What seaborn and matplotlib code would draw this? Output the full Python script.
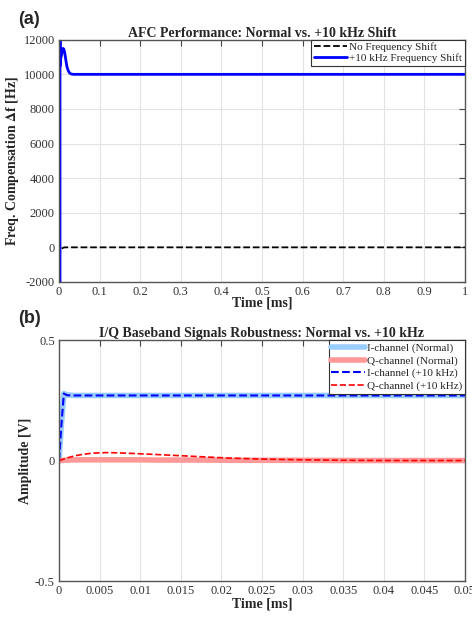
import numpy as np
import pandas as pd
import matplotlib
matplotlib.use("Agg")
import matplotlib.pyplot as plt
import seaborn as sns

# ---- data ----
# (a) AFC frequency compensation, time in ms
t_afc = [0, 0.0005, 0.001, 0.0015, 0.002, 0.0025, 0.003, 0.004, 0.005, 0.006,
         0.008, 0.010, 0.012, 0.014, 0.016, 0.018, 0.020, 0.023, 0.026,
         0.030, 0.035, 0.040, 0.05, 0.1, 0.2, 0.3, 0.4, 0.5, 0.6, 0.7, 0.8, 0.9, 1.0]
df_shift = [-3000, 13500, -2500, 13000, -2500, 12500, 10500, 10900, 11000, 11100,
            11350, 11500, 11450, 11250, 10950, 10650, 10400, 10200, 10080,
            10020, 10000, 10000, 10000, 10000, 10000, 10000, 10000, 10000, 10000,
            10000, 10000, 10000, 10000]
df_normal = [-600, -450, -400, -360, -320, -290, -260, -200, -150, -110,
             -60, -25, -10, -5, 0, 0, 0, 0, 0,
             0, 0, 0, 0, 0, 0, 0, 0, 0, 0, 0, 0, 0, 0]

# (b) I/Q baseband, time in ms
t_iq = [0, 0.0003, 0.0006, 0.001, 0.002, 0.003, 0.004, 0.005, 0.006, 0.008,
        0.010, 0.012, 0.015, 0.018, 0.021, 0.025, 0.030, 0.035, 0.040, 0.045, 0.050]
i_normal = [0, 0.15, 0.278, 0.272, 0.27, 0.27, 0.27, 0.27, 0.27, 0.27,
            0.27, 0.27, 0.27, 0.27, 0.27, 0.27, 0.27, 0.27, 0.27, 0.27, 0.27]
q_normal = [0, 0.0, 0.001, 0.002, 0.003, 0.003, 0.003, 0.003, 0.003, 0.003,
            0.003, 0.002, 0.002, 0.002, 0.001, 0.001, 0.001, 0.0, 0.0, 0.0, 0.0]
i_shift = [0, 0.15, 0.278, 0.271, 0.27, 0.27, 0.27, 0.27, 0.27, 0.27,
           0.27, 0.27, 0.27, 0.27, 0.27, 0.27, 0.27, 0.27, 0.27, 0.27, 0.27]
q_shift = [0, 0.003, 0.006, 0.011, 0.020, 0.026, 0.030, 0.032, 0.033, 0.031,
           0.028, 0.025, 0.020, 0.015, 0.010, 0.006, 0.003, 0.001, 0.0, 0.0, 0.0]

sns.set_style("white")
plt.rcParams['font.family'] = ['Liberation Serif', 'DejaVu Serif']
plt.rcParams['mathtext.fontset'] = 'stix'
plt.rcParams['axes.unicode_minus'] = False

fig = plt.figure(figsize=(4.72, 6.21), dpi=100)
ax1 = fig.add_axes([0.125, 0.546, 0.860, 0.390])
ax2 = fig.add_axes([0.125, 0.0644, 0.860, 0.388])

afc = pd.DataFrame({'t': t_afc, 'normal': df_normal, 'shift': df_shift})
sns.lineplot(data=afc, x='t', y='normal', ax=ax1, color='black', lw=1.3,
             linestyle='--', label='No Frequency Shift')
sns.lineplot(data=afc, x='t', y='shift', ax=ax1, color='#0000ff', lw=2,
             label='+10 kHz Frequency Shift')

iq = pd.DataFrame({'t': t_iq, 'i_n': i_normal, 'q_n': q_normal,
                   'i_s': i_shift, 'q_s': q_shift})
sns.lineplot(data=iq, x='t', y='i_n', ax=ax2, color='#99ccff', lw=4,
             label='I-channel (Normal)')
sns.lineplot(data=iq, x='t', y='q_n', ax=ax2, color='#ff9999', lw=4,
             label='Q-channel (Normal)')
sns.lineplot(data=iq, x='t', y='i_s', ax=ax2, color='#0000ff', lw=1.5,
             linestyle='--', label='I-channel (+10 kHz)')
sns.lineplot(data=iq, x='t', y='q_s', ax=ax2, color='#ff0000', lw=1.2,
             linestyle='--', label='Q-channel (+10 kHz)')

ax1.set_xlim(0, 1)
ax1.set_ylim(-2000, 12000)
ax1.set_xticks(np.arange(0, 1.01, 0.1))
ax1.set_xticklabels(['0', '0.1', '0.2', '0.3', '0.4', '0.5', '0.6', '0.7', '0.8', '0.9', '1'])
ax1.set_yticks(np.arange(-2000, 12001, 2000))
ax1.set_title('AFC Performance: Normal vs. +10 kHz Shift', fontsize=10,
              fontweight='bold', pad=2)
ax1.set_xlabel('Time [ms]', fontsize=10, fontweight='bold', labelpad=-1)
ax1.set_ylabel(r'Freq. Compensation $\mathbf{\Delta}$f [Hz]', fontsize=10,
               fontweight='bold', labelpad=2)

ax2.set_xlim(0, 0.05)
ax2.set_ylim(-0.5, 0.5)
ax2.set_xticks(np.arange(0, 0.0501, 0.005))
ax2.set_xticklabels(['0', '0.005', '0.01', '0.015', '0.02', '0.025', '0.03',
                     '0.035', '0.04', '0.045', '0.05'])
ax2.set_yticks([-0.5, 0, 0.5])
ax2.set_yticklabels(['-0.5', '0', '0.5'])
ax2.set_title('I/Q Baseband Signals Robustness: Normal vs. +10 kHz', fontsize=10,
              fontweight='bold', pad=2)
ax2.set_xlabel('Time [ms]', fontsize=10, fontweight='bold', labelpad=0)
ax2.set_ylabel('Amplitude [V]', fontsize=10, fontweight='bold', labelpad=2)

for ax, lsp in ((ax1, 0.1), (ax2, 0.25)):
    ax.grid(True, color='#e3e3e3', lw=0.8)
    ax.set_axisbelow(True)
    ax.tick_params(direction='in', length=4, width=0.8, colors='#444444',
                   labelsize=9, top=True, right=True, pad=3)
    for lab in ax.get_xticklabels() + ax.get_yticklabels():
        lab.set_color('#333333')
    for s in ax.spines.values():
        s.set_visible(True)
        s.set_color('#555555')
        s.set_linewidth(1.0)
    leg = ax.legend(loc='upper right', fontsize=8, frameon=True, fancybox=False,
                    edgecolor='#333333', framealpha=1, borderpad=0.25,
                    labelspacing=lsp, handlelength=3.0, handletextpad=0.2,
                    borderaxespad=0)
    leg.get_frame().set_linewidth(0.8)

fig.text(0.038, 0.968, '(a)', fontsize=13, fontweight='bold',
         family='Liberation Sans', va='center')
fig.text(0.038, 0.487, '(b)', fontsize=13, fontweight='bold',
         family='Liberation Sans', va='center')

fig.savefig('out.png', dpi=100)
